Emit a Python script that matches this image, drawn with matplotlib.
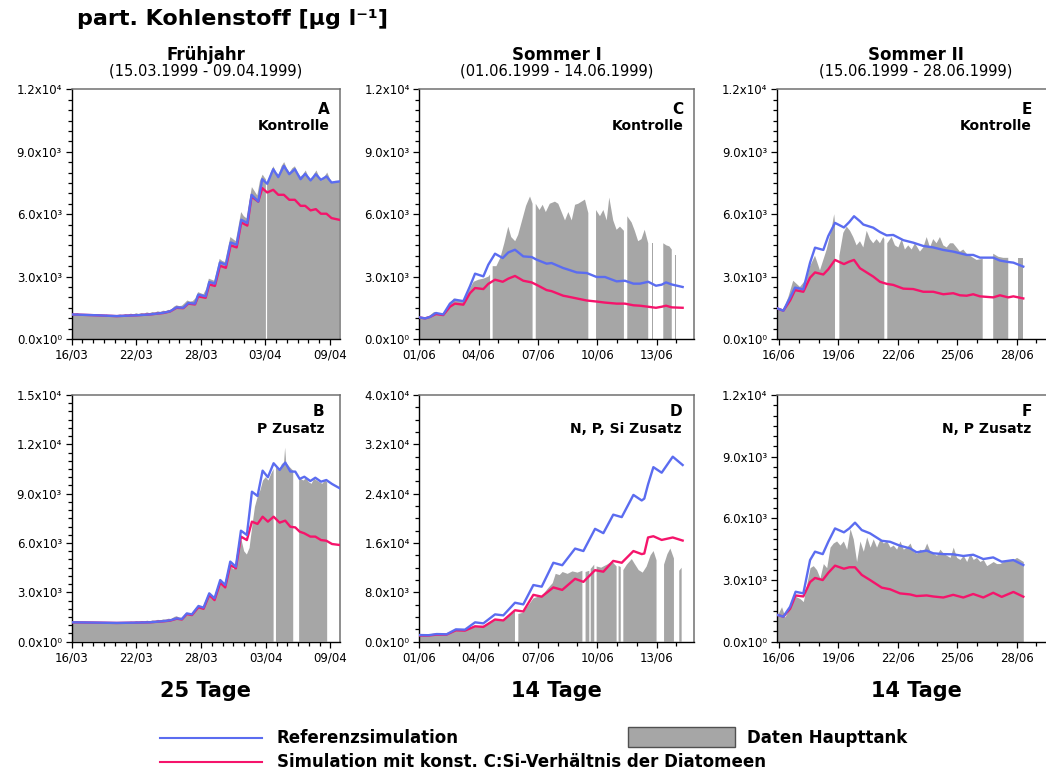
import numpy as np
import matplotlib.pyplot as plt
from matplotlib.lines import Line2D
from matplotlib.patches import Rectangle
from matplotlib.ticker import MultipleLocator, FuncFormatter

plt.rcParams['font.family'] = ['DejaVu Sans']

NA = np.nan
W, H = 1046, 776
BLUE = '#5b6cf0'
RED = '#f5146b'
GRAY = '#a6a6a6'

# all concentrations in 10^3 µg/l, time in days from the first tick label

# --- Frühjahr: A (Kontrolle), B (P Zusatz) ---
spring_ticks = ['16/03', '22/03', '28/03', '03/04', '09/04']

a_t = [0, 2.32, 4.18, 6.04, 7.28, 8.51, 9.13, 9.75, 10.37, 10.84, 11.46, 11.76, 12.45,
       12.79, 13.31, 13.78, 14.33, 14.77, 15.33, 15.76, 16.32, 16.72, 17.34, 17.71, 18.17,
       18.73, 19.20, 19.72, 20.22, 20.74, 21.27, 21.70, 22.20, 22.69, 23.16, 23.68, 24.15, 24.86]
a_ref = [1.18, 1.14, 1.10, 1.14, 1.18, 1.26, 1.33, 1.52, 1.50, 1.73, 1.70, 2.13, 2.05,
         2.74, 2.66, 3.68, 3.57, 4.64, 4.53, 5.73, 5.57, 6.93, 6.61, 7.68, 7.46,
         8.16, 7.78, 8.32, 7.92, 8.16, 7.68, 7.94, 7.62, 7.92, 7.65, 7.81, 7.52, 7.57]
a_csi = [1.18, 1.14, 1.10, 1.14, 1.18, 1.25, 1.32, 1.50, 1.48, 1.70, 1.66, 2.05, 1.98,
         2.62, 2.55, 3.52, 3.42, 4.50, 4.40, 5.60, 5.45, 6.85, 6.60, 7.25, 7.04,
         7.17, 6.93, 6.93, 6.69, 6.69, 6.40, 6.40, 6.18, 6.24, 6.02, 6.02, 5.81, 5.73]
a_obs = [(0, 1.22), (0.25, 1.18), (0.5, 1.25), (0.75, 1.2), (1, 1.17), (1.25, 1.2), (1.5, 1.16),
         (1.75, 1.19), (2, 1.15), (2.25, 1.18), (2.5, 1.14), (2.75, 1.16), (3, 1.13), (3.25, 1.17),
         (3.5, 1.12), (3.75, 1.16), (4, 1.13), (4.25, 1.15), (4.5, 1.18), (4.75, 1.14), (5, 1.2),
         (5.25, 1.17), (5.5, 1.22), (5.75, 1.18), (6, 1.24), (6.25, 1.2), (6.5, 1.25), (6.75, 1.22),
         (7, 1.28), (7.25, 1.24), (7.5, 1.3), (7.75, 1.27), (8, 1.33), (8.25, 1.3), (8.5, 1.36),
         (8.75, 1.34), (9, 1.4), (9.25, 1.38), (9.5, 1.55), (9.75, 1.62), (10, 1.58), (10.25, 1.6),
         (10.5, 1.72), (10.75, 1.85), (11, 1.8), (11.25, 1.82), (11.5, 1.95), (11.75, 2.25),
         (12, 2.2), (12.25, 2.15), (12.5, 2.4), (12.75, 2.9), (13, 2.85), (13.25, 2.8), (13.5, 3.3),
         (13.75, 3.85), (14, 3.75), (14.25, 3.7), (14.5, 4.3), (14.75, 4.9), (15, 4.8), (15.25, 4.7),
         (15.5, 5.4), (15.75, 6.1), (16, 5.9), (16.25, 5.8), (16.5, 6.6), (16.75, 7.3), (17, 7.1),
         (17.25, 6.9), (17.5, 7.6), (17.75, 7.9), (18, 7.7), (18.05, 7.7), (18.1, NA), (18.16, 7.6),
         (18.25, 7.6), (18.5, 8.0), (18.75, 8.3), (19, 8.0), (19.25, 7.9), (19.5, 8.3), (19.75, 8.5),
         (20, 8.2), (20.25, 8.0), (20.5, 8.2), (20.75, 8.3), (21, 8.0), (21.25, 7.8), (21.5, 7.9),
         (21.75, 8.1), (22, 7.8), (22.25, 7.6), (22.5, 7.9), (22.75, 8.1), (23, 7.8), (23.25, 7.6),
         (23.5, 7.8), (23.75, 8.0), (24, 7.7), (24.25, 7.5), (24.5, 7.6), (24.85, 7.6)]

b_t = [0, 2.32, 4.18, 6.04, 7.28, 8.51, 9.13, 9.75, 10.22, 10.68, 11.15, 11.76, 12.23,
       12.76, 13.25, 13.78, 14.24, 14.71, 15.23, 15.70, 16.25, 16.72, 17.24, 17.71, 18.20,
       18.73, 19.29, 19.81, 20.28, 20.74, 21.15, 21.58, 22.14, 22.60, 23.13, 23.62, 24.15, 24.86]
b_ref = [1.18, 1.16, 1.14, 1.16, 1.18, 1.25, 1.30, 1.42, 1.38, 1.72, 1.66, 2.17, 2.07,
         2.94, 2.64, 3.75, 3.45, 4.87, 4.56, 6.75, 6.49, 9.12, 8.86, 10.4, 10.0,
         10.85, 10.44, 10.89, 10.35, 10.34, 9.9, 10.03, 9.77, 9.97, 9.73, 9.83, 9.59, 9.33]
b_csi = [1.18, 1.16, 1.14, 1.16, 1.18, 1.24, 1.28, 1.40, 1.35, 1.68, 1.62, 2.10, 2.00,
         2.84, 2.53, 3.59, 3.30, 4.66, 4.46, 6.39, 6.18, 7.30, 7.16, 7.60, 7.30,
         7.60, 7.24, 7.36, 6.99, 6.95, 6.69, 6.59, 6.39, 6.39, 6.18, 6.14, 5.94, 5.88]
b_obs = [(0, 1.22), (0.25, 1.18), (0.5, 1.24), (0.75, 1.2), (1, 1.17), (1.25, 1.21), (1.5, 1.16),
         (1.75, 1.2), (2, 1.15), (2.25, 1.19), (2.5, 1.14), (2.75, 1.18), (3, 1.13), (3.25, 1.18),
         (3.5, 1.13), (3.75, 1.17), (4, 1.14), (4.25, 1.16), (4.5, 1.19), (4.75, 1.15), (5, 1.2),
         (5.25, 1.17), (5.5, 1.22), (5.75, 1.18), (6, 1.24), (6.25, 1.2), (6.5, 1.26), (6.75, 1.22),
         (7, 1.28), (7.25, 1.24), (7.5, 1.3), (7.75, 1.27), (8, 1.33), (8.25, 1.3), (8.5, 1.36),
         (8.75, 1.34), (9, 1.4), (9.25, 1.37), (9.5, 1.5), (9.75, 1.55), (10, 1.45), (10.25, 1.45),
         (10.5, 1.65), (10.75, 1.75), (11, 1.7), (11.25, 1.68), (11.5, 1.95), (11.75, 2.2),
         (12, 2.1), (12.25, 2.05), (12.5, 2.5), (12.75, 2.85), (13, 2.6), (13.25, 2.6), (13.5, 3.2),
         (13.75, 3.6), (14, 3.4), (14.25, 3.4), (14.5, 4.2), (14.75, 4.6), (15, 4.4), (15.25, 4.5),
         (15.5, 5.6), (15.75, 6.2), (16, 5.5), (16.25, 5.3), (16.5, 5.7), (16.75, 7.0), (17, 8.2),
         (17.25, 8.8), (17.5, 9.2), (17.75, 9.8), (18, 10.0), (18.25, 9.8), (18.5, 10.2),
         (18.73, 10.5), (18.84, NA), (18.95, 10.6), (19.25, 10.4), (19.5, 10.8), (19.7, 10.9),
         (19.8, 11.8), (19.9, 10.9), (20, 10.8), (20.25, 10.6), (20.55, 10.4), (20.8, NA),
         (21.1, 10.0), (21.25, 9.9), (21.5, 9.8), (21.75, 9.95), (22, 9.7), (22.25, 9.6),
         (22.5, 9.9), (22.75, 9.8), (23, 9.7), (23.25, 9.6), (23.5, 9.8), (23.7, 9.7)]

# --- Sommer I: C (Kontrolle), D (N, P, Si Zusatz) ---
summer1_ticks = ['01/06', '04/06', '07/06', '10/06', '13/06']

c_t = [0, 0.29, 0.54, 0.84, 1.21, 1.55, 1.80, 2.23, 2.56, 2.82, 3.24, 3.49, 3.83, 4.22, 4.50,
       4.84, 5.26, 5.68, 5.94, 6.44, 6.69, 7.28, 7.45, 7.96, 8.47, 8.97, 9.39, 9.98, 10.40,
       10.83, 11.16, 11.58, 11.97, 12.26, 12.48, 12.77, 13.32]
c_ref = [1.04, 0.99, 1.06, 1.25, 1.18, 1.70, 1.89, 1.82, 2.53, 3.14, 3.01, 3.57, 4.10, 3.89, 4.16,
         4.29, 3.97, 3.94, 3.81, 3.62, 3.65, 3.41, 3.36, 3.20, 3.17, 2.98, 2.98, 2.77, 2.80,
         2.66, 2.66, 2.75, 2.56, 2.61, 2.72, 2.62, 2.50]
c_csi = [1.04, 0.99, 1.06, 1.20, 1.15, 1.55, 1.70, 1.65, 2.20, 2.45, 2.40, 2.65, 2.85, 2.75, 2.90,
         3.03, 2.80, 2.72, 2.60, 2.35, 2.30, 2.08, 2.05, 1.95, 1.85, 1.80, 1.75, 1.70, 1.70,
         1.62, 1.60, 1.55, 1.50, 1.55, 1.60, 1.52, 1.50]
c_obs = [(0, 1.05), (0.25, 1.0), (0.5, 1.1), (0.75, 1.3), (1.0, 1.22), (1.25, 1.2), (1.5, 1.65),
         (1.75, 1.95), (2.0, 1.85), (2.25, 1.85), (2.5, 2.3), (2.75, 2.75), (3.0, 2.85), (3.25, 2.9),
         (3.5, 3.0), (3.58, 3.1), (3.64, NA), (3.71, 3.5), (3.9, 3.5), (4.1, 3.9), (4.3, 4.6),
         (4.5, 5.4), (4.65, 4.9), (4.85, 4.7), (5.0, 5.0), (5.2, 5.7), (5.4, 6.4), (5.6, 6.85),
         (5.73, 6.5), (5.8, NA), (5.89, 6.5), (6.08, 6.2), (6.24, 6.45), (6.4, 6.1), (6.6, 6.5),
         (6.86, 6.6), (7.03, 6.5), (7.2, 6.1), (7.37, 5.7), (7.54, 6.1), (7.71, 5.7), (7.88, 6.45),
         (8.04, 6.5), (8.21, 6.6), (8.38, 6.7), (8.55, 6.05), (8.75, NA), (8.94, 6.2), (9.14, 5.9),
         (9.31, 6.2), (9.48, 5.7), (9.61, 6.8), (9.81, 5.7), (9.98, 5.25), (10.15, 5.4),
         (10.35, 5.2), (10.45, NA), (10.52, 5.9), (10.74, 5.6), (10.9, 5.2), (11.07, 4.7),
         (11.24, 4.8), (11.4, 5.25), (11.58, 4.6), (11.66, NA), (11.75, 4.6), (11.84, 4.6),
         (11.9, NA), (12.0, 4.3), (12.03, 4.3), (12.2, NA), (12.34, 4.6), (12.5, 4.5),
         (12.65, 4.45), (12.77, 4.3), (12.85, NA), (12.95, 4.05), (12.98, 4.05)]

d_t = [0, 0.46, 0.88, 1.38, 1.85, 2.31, 2.82, 3.24, 3.83, 4.25, 4.84, 5.26, 5.77, 6.19, 6.78,
       7.23, 7.88, 8.30, 8.89, 9.31, 9.81, 10.24, 10.83, 11.25, 11.38, 11.57, 11.84, 12.26,
       12.82, 13.32]
d_ref = [1.08, 1.05, 1.24, 1.20, 2.00, 1.95, 3.14, 2.97, 4.43, 4.27, 6.32, 6.05, 9.19, 8.92, 12.8,
         12.4, 15.1, 14.7, 18.3, 17.6, 20.6, 20.2, 23.8, 22.9, 23.2, 25.5, 28.3, 27.4, 30.0, 28.65]
d_csi = [1.00, 1.00, 1.15, 1.15, 1.85, 1.80, 2.50, 2.40, 3.60, 3.45, 5.10, 4.90, 7.60, 7.30, 8.80,
         8.40, 10.2, 9.70, 11.6, 11.35, 13.1, 12.8, 14.7, 14.2, 14.3, 16.9, 17.1, 16.5, 16.9, 16.4]
d_obs = [(0, 1.0), (0.5, 1.05), (1.0, 1.15), (1.5, 1.2), (1.85, 1.8), (2.3, 1.75), (2.8, 2.5),
         (3.25, 2.6), (3.8, 3.6), (4.25, 3.5), (4.6, 4.4), (4.84, 4.9), (4.92, NA), (5.01, 4.5),
         (5.25, 4.7), (5.5, 5.8), (5.77, 7.0), (6.0, 7.3), (6.2, 7.4), (6.5, 8.6), (6.75, 9.5),
         (6.9, 11.0), (7.1, 10.8), (7.25, 11.3), (7.5, 11.0), (7.75, 11.4), (8.0, 11.2),
         (8.25, 11.5), (8.33, NA), (8.41, 11.3), (8.6, 11.5), (8.63, NA), (8.67, 11.8),
         (8.85, 12.5), (8.9, NA), (8.97, 12.2), (9.2, 12.0), (9.5, 12.5), (9.75, 13.0),
         (9.98, 12.2), (10.03, NA), (10.08, 12.3), (10.19, 12.1), (10.25, NA), (10.32, 11.6),
         (10.5, 12.5), (10.75, 13.4), (10.9, 12.6), (11.1, 11.6), (11.3, 11.2), (11.5, 12.2),
         (11.7, 14.0), (11.85, 14.7), (12.0, 13.2), (12.2, NA), (12.38, 12.5), (12.55, 14.2),
         (12.7, 15.1), (12.88, 13.5), (13.0, NA), (13.15, 11.5), (13.27, 12.0)]

# --- Sommer II: E (Kontrolle), F (N, P Zusatz) ---
summer2_ticks = ['16/06', '19/06', '22/06', '25/06', '28/06']

e_t = [-0.08, 0.22, 0.56, 0.81, 1.23, 1.57, 1.82, 2.24, 2.49, 2.83, 3.28, 3.55, 3.79, 4.09, 4.26,
       4.76, 5.10, 5.44, 5.77, 6.28, 6.78, 7.29, 7.79, 8.30, 8.80, 9.14, 9.48, 9.81, 10.15,
       10.82, 11.16, 11.58, 11.84, 12.34]
e_ref = [1.47, 1.36, 1.99, 2.47, 2.39, 3.67, 4.39, 4.28, 4.95, 5.58, 5.36, 5.62, 5.9, 5.66, 5.5,
         5.35, 5.14, 4.98, 5.0, 4.75, 4.63, 4.47, 4.4, 4.28, 4.2, 4.12, 4.04, 4.04, 3.91,
         3.91, 3.77, 3.7, 3.67, 3.48]
e_csi = [1.47, 1.36, 1.85, 2.35, 2.27, 2.95, 3.2, 3.1, 3.35, 3.8, 3.6, 3.72, 3.8, 3.4, 3.3,
         3.0, 2.75, 2.65, 2.6, 2.42, 2.4, 2.27, 2.27, 2.15, 2.2, 2.1, 2.08, 2.15, 2.05,
         2.0, 2.1, 2.0, 2.05, 1.95]
e_obs = [(-0.08, 1.5), (0.22, 1.4), (0.47, 2.0), (0.72, 2.8), (1.06, 2.5), (1.40, 2.9), (1.57, 3.5),
         (1.82, 4.0), (2.07, 3.3), (2.41, 4.3), (2.66, 5.3), (2.79, 6.0), (2.83, 5.6), (2.94, NA),
         (3.05, 4.0), (3.25, 5.1), (3.42, 5.4), (3.59, 5.2), (3.75, 4.9), (3.92, 4.5), (4.09, 4.7),
         (4.26, 4.4), (4.43, 5.2), (4.60, 4.8), (4.76, 4.6), (4.93, 4.8), (5.10, 4.6), (5.27, 4.9),
         (5.32, 4.8), (5.39, NA), (5.47, 4.6), (5.69, 4.9), (5.86, 4.5), (6.03, 4.4), (6.20, 4.8),
         (6.36, 4.3), (6.53, 4.5), (6.70, 4.3), (6.87, 4.6), (7.12, 4.2), (7.29, 4.4), (7.46, 4.9),
         (7.63, 4.4), (7.79, 4.8), (7.96, 4.6), (8.13, 4.9), (8.30, 4.5), (8.47, 4.4), (8.64, 4.6),
         (8.80, 4.6), (8.97, 4.4), (9.14, 4.2), (9.31, 4.3), (9.48, 4.1), (9.65, 4.0), (9.81, 3.9),
         (9.98, 3.8), (10.29, 3.85), (10.5, NA), (10.82, 4.1), (11.08, 3.95), (11.33, 3.9),
         (11.58, 3.9), (11.8, NA), (12.07, 3.9), (12.30, 3.9)]

f_t = [-0.08, 0.22, 0.56, 0.84, 1.23, 1.57, 1.82, 2.21, 2.49, 2.83, 3.28, 3.55, 3.84, 4.18, 4.60,
       5.19, 5.61, 6.11, 6.62, 6.95, 7.46, 7.79, 8.30, 8.80, 9.31, 9.81, 10.32, 10.82, 11.25,
       11.84, 12.34]
f_ref = [1.3, 1.22, 1.7, 2.43, 2.35, 3.97, 4.38, 4.26, 4.86, 5.51, 5.32, 5.51, 5.79, 5.43, 5.27,
         4.91, 4.86, 4.67, 4.54, 4.35, 4.43, 4.3, 4.26, 4.25, 4.17, 4.23, 4.02, 4.1, 3.89,
         3.97, 3.73]
f_csi = [1.30, 1.22, 1.60, 2.25, 2.20, 2.90, 3.10, 3.00, 3.35, 3.70, 3.55, 3.62, 3.62, 3.25, 3.00,
         2.63, 2.55, 2.35, 2.30, 2.22, 2.25, 2.20, 2.15, 2.28, 2.15, 2.32, 2.15, 2.38, 2.18,
         2.42, 2.19]
f_obs = [(-0.08, 1.3), (0.13, 1.7), (0.30, 1.2), (0.56, 1.7), (0.84, 2.2), (1.06, 2.1), (1.23, 1.95),
         (1.40, 2.8), (1.57, 3.6), (1.73, 3.7), (1.90, 3.5), (2.07, 3.1), (2.24, 3.8), (2.41, 3.6),
         (2.58, 4.6), (2.74, 4.8), (2.91, 4.9), (3.08, 4.7), (3.25, 4.9), (3.42, 4.5), (3.59, 5.5),
         (3.75, 5.0), (3.92, 3.9), (4.09, 4.9), (4.26, 4.4), (4.43, 5.1), (4.60, 4.6), (4.76, 5.0),
         (4.93, 4.6), (5.10, 5.0), (5.27, 4.8), (5.44, 4.9), (5.61, 4.6), (5.77, 4.7), (5.94, 4.5),
         (6.11, 4.9), (6.28, 4.5), (6.45, 4.6), (6.62, 4.8), (6.78, 4.4), (6.95, 4.3), (7.12, 4.5),
         (7.29, 4.4), (7.46, 4.8), (7.63, 4.4), (7.79, 4.3), (7.96, 4.2), (8.13, 4.5), (8.30, 4.3),
         (8.47, 4.2), (8.64, 4.1), (8.80, 4.6), (8.97, 4.1), (9.14, 4.0), (9.31, 4.2), (9.48, 3.9),
         (9.65, 4.3), (9.81, 4.0), (9.98, 4.1), (10.15, 3.9), (10.32, 4.0), (10.49, 3.7),
         (10.66, 3.8), (10.82, 3.9), (10.99, 3.8), (11.16, 3.8), (11.33, 3.9), (11.50, 3.9),
         (11.67, 4.0), (11.84, 4.0), (12.00, 4.1), (12.17, 4.0), (12.34, 3.9)]

SUP = str.maketrans('0123456789-', '⁰¹²³⁴⁵⁶⁷⁸⁹⁻')


def sci_label(v, pos):
    if abs(v) < 1e-9:
        return '0.0x10⁰'
    e = int(np.floor(np.log10(abs(v)) + 1e-9))
    return f'{v / 10 ** e:.1f}x10' + str(e).translate(SUP)


fig = plt.figure(figsize=(W / 100, H / 100), dpi=100)


def px_axes(l, t, r, b):
    return fig.add_axes([l / W, 1 - b / H, (r - l) / W, (b - t) / H])


def fx(x):
    return x / W


def fy(y):
    return 1 - y / H


def draw(ax, t, ref, csi, obs, xlim, ticklabels, xstep, ymax, ymaj, ymin):
    ot, ov = np.array(obs, dtype=float).T
    ax.fill_between(ot, 0, ov * 1e3, color=GRAY, lw=0, zorder=1)
    ax.plot(t, np.array(csi) * 1e3, color=RED, lw=1.7, zorder=3)
    ax.plot(t, np.array(ref) * 1e3, color=BLUE, lw=1.7, zorder=4)
    ax.set_xlim(*xlim)
    ax.set_ylim(0, ymax)
    ax.set_xticks(np.arange(len(ticklabels)) * xstep)
    ax.set_xticklabels(ticklabels)
    ax.xaxis.set_minor_locator(MultipleLocator(1))
    ax.yaxis.set_major_locator(MultipleLocator(ymaj))
    ax.yaxis.set_minor_locator(MultipleLocator(ymin))
    ax.yaxis.set_major_formatter(FuncFormatter(sci_label))
    ax.tick_params(which='both', direction='out', labelsize=8.5, width=0.9, color='black')
    ax.tick_params(which='major', length=4.5, pad=2.5)
    ax.tick_params(which='minor', length=3)
    for s in ('top', 'right'):
        ax.spines[s].set_color('#707070')
        ax.spines[s].set_linewidth(1.1)
    for s in ('left', 'bottom'):
        ax.spines[s].set_color('black')
        ax.spines[s].set_linewidth(1.0)


panels = [
    # rect (px), series, xlim, tick labels, tick step, y max, y major, y minor
    ((71.7, 89.3, 339.5, 339.0), (a_t, a_ref, a_csi, a_obs), (0, 24.89), spring_ticks, 6, 12000, 3000, 500),
    ((419.3, 89.3, 694.3, 339.0), (c_t, c_ref, c_csi, c_obs), (0, 13.91), summer1_ticks, 3, 12000, 3000, 500),
    ((777.0, 89.3, 1052.0, 339.0), (e_t, e_ref, e_csi, e_obs), (-0.1, 13.79), summer2_ticks, 3, 12000, 3000, 500),
    ((71.7, 395.0, 340.0, 641.7), (b_t, b_ref, b_csi, b_obs), (0, 24.89), spring_ticks, 6, 15000, 3000, 500),
    ((419.3, 395.0, 694.3, 641.7), (d_t, d_ref, d_csi, d_obs), (0, 13.91), summer1_ticks, 3, 40000, 8000, 2000),
    ((777.0, 395.0, 1052.0, 641.7), (f_t, f_ref, f_csi, f_obs), (-0.1, 13.79), summer2_ticks, 3, 12000, 3000, 500),
]

for rect, series, xlim, labels, step, ymax, ymaj, ymin in panels:
    ax = px_axes(*rect)
    draw(ax, *series, xlim, labels, step, ymax, ymaj, ymin)

# panel letters and treatments
tags = [('A', 'Kontrolle', 329.3, 110, 126),
        ('C', 'Kontrolle', 683.3, 110, 126),
        ('E', 'Kontrolle', 1031.7, 110, 126),
        ('B', 'P Zusatz', 324.5, 412, 429),
        ('D', 'N, P, Si Zusatz', 682.0, 412, 429),
        ('F', 'N, P Zusatz', 1031.7, 412, 429)]
for letter, name, xr, y1, y2 in tags:
    fig.text(fx(xr), fy(y1), letter, ha='right', va='center', fontsize=11, fontweight='bold')
    fig.text(fx(xr), fy(y2), name, ha='right', va='center', fontsize=10, fontweight='bold')

fig.text(fx(77), fy(19), 'part. Kohlenstoff [µg l⁻¹]', ha='left', va='center',
         fontsize=16, fontweight='bold')

columns = [(205.6, 'Frühjahr', '(15.03.1999 - 09.04.1999)', '25 Tage'),
           (556.8, 'Sommer I', '(01.06.1999 - 14.06.1999)', '14 Tage'),
           (916.0, 'Sommer II', '(15.06.1999 - 28.06.1999)', '14 Tage')]
for cx, head, period, dur in columns:
    fig.text(fx(cx), fy(55), head, ha='center', va='center', fontsize=12, fontweight='bold')
    fig.text(fx(cx), fy(71), period, ha='center', va='center', fontsize=10.5)
    fig.text(fx(cx), fy(691), dur, ha='center', va='center', fontsize=15, fontweight='bold')

# legend
fig.add_artist(Line2D([fx(160), fx(262)], [fy(738), fy(738)], color=BLUE, lw=1.5))
fig.add_artist(Line2D([fx(160), fx(262)], [fy(762), fy(762)], color=RED, lw=1.5))
fig.add_artist(Rectangle((fx(628), fy(747)), fx(735) - fx(628), fy(727) - fy(747),
                         facecolor=GRAY, edgecolor='#505050', lw=1.0, transform=fig.transFigure))
fig.text(fx(277), fy(738), 'Referenzsimulation', ha='left', va='center', fontsize=12, fontweight='bold')
fig.text(fx(277), fy(762), 'Simulation mit konst. C:Si-Verhältnis der Diatomeen', ha='left',
         va='center', fontsize=12, fontweight='bold')
fig.text(fx(747), fy(738), 'Daten Haupttank', ha='left', va='center', fontsize=12, fontweight='bold')

fig.savefig('out.png', dpi=100)
